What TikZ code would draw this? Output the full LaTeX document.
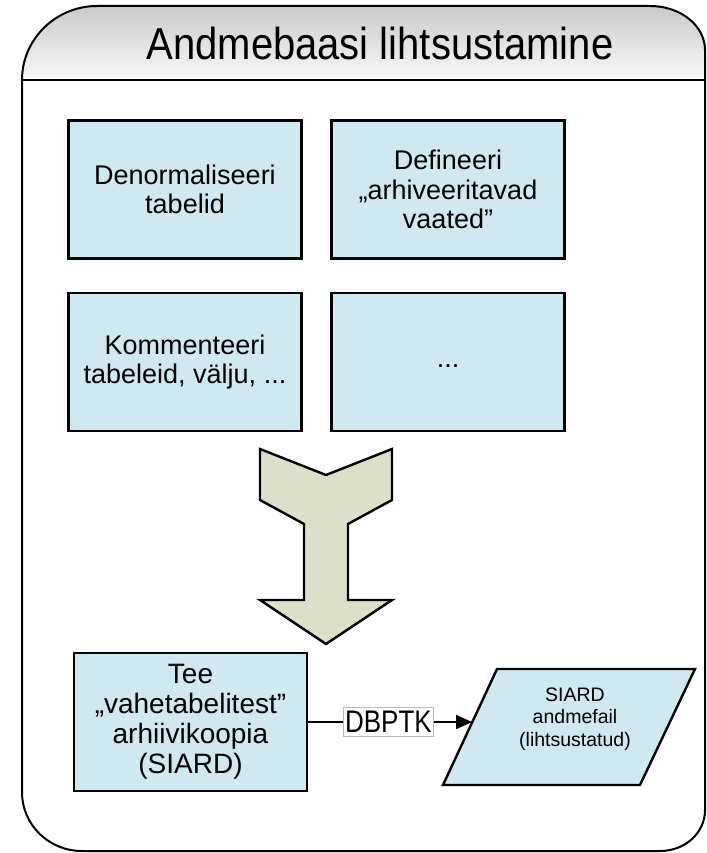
\documentclass[tikz,border=0pt]{standalone}
\usepackage{fontspec}
\setmainfont{Liberation Sans}
\usetikzlibrary{arrows.meta}
\definecolor{boxblue}{RGB}{208,232,239}
\definecolor{arrowfill}{RGB}{220,223,202}
\begin{document}
\begin{tikzpicture}[x=1pt,y=-1pt,
  box/.style={draw=black, line width=2.4pt, fill=boxblue, minimum width=233pt,
    minimum height=138pt, align=center, inner sep=0pt,
    font=\fontsize{27}{29.5}\selectfont},
  bigbox/.style={box, font=\fontsize{28}{30}\selectfont},
  frameline/.style={draw=black, line width=2pt},
  bigarrow/.style={draw=black, line width=2.4pt, fill=arrowfill, line join=miter},
  para/.style={draw=black, line width=2.4pt, fill=boxblue},
  paratext/.style={align=center, inner sep=0pt, font=\fontsize{19.5}{22.5}\selectfont},
  conn/.style={draw=black, line width=2pt, -{Triangle[length=16pt,width=14pt]}},
  lbl/.style={draw=gray!55, line width=0.8pt, fill=white, inner xsep=1.5pt, inner ysep=4pt,
    font=\fontsize{26}{28}\selectfont},
  titletext/.style={anchor=base, inner sep=0pt, font=\fontsize{40}{44}\selectfont}]
\useasboundingbox (0,0) rectangle (706,853);
% header shading
\shade[top color=gray!42, bottom color=gray!4]
  (22,80) .. controls (22,39) and (56,6) .. (97,6) -- (650,6)
  .. controls (681,6) and (705,26) .. (705,50) -- (705,80) -- cycle;
% frame
\draw[frameline] (22,80) .. controls (22,39) and (56,6) .. (97,6) -- (650,6)
  .. controls (681,6) and (705,26) .. (705,50) -- (705,810)
  .. controls (705,833) and (685,851) .. (660,851) -- (82,851)
  .. controls (49,851) and (22,825) .. (22,792) -- cycle;
\coordinate (hdl) at (22,80);
\coordinate (hdr) at (705,80);
\draw[frameline] (hdl) -- (hdr);
\node[titletext] (title) at (380,60) {\scalebox{1}[1.12]{Andmebaasi lihtsustamine}};
% boxes
\node[box] (b1) at (185,189.5) {Denormaliseeri\\tabelid};
\node[box] (b2) at (448,189.5) {Defineeri\\„arhiveeritavad\\vaated”};
\node[box] (b3) at (185,362) {Kommenteeri\\tabeleid, välju, ...};
\node[box] (b4) at (448,362) {\strut...};
% big arrow
\draw[bigarrow] (260,449) -- (326,475) -- (392,449) -- (392,500) -- (348,524)
  -- (348,600) -- (392,600) -- (326,644) -- (260,600) -- (304,600) -- (304,524)
  -- (260,500) -- cycle;
% bottom
\node[bigbox] (tee) at (190.5,722) {Tee\\„vahetabelitest”\\arhiivikoopia\\(SIARD)};
\draw[para] (443,785) -- (497,669) -- (695,669) -- (640,785) -- cycle;
\node[paratext] (siard) at (575,719) {SIARD\\andmefail\\(lihtsustatud)};
\coordinate (siardin) at (472,722);
\draw[conn] (tee.east) -- node[lbl, pos=0.49] (dbptk) {\scalebox{1}[1.2]{DBPTK}} (siardin);
\end{tikzpicture}
\end{document}
